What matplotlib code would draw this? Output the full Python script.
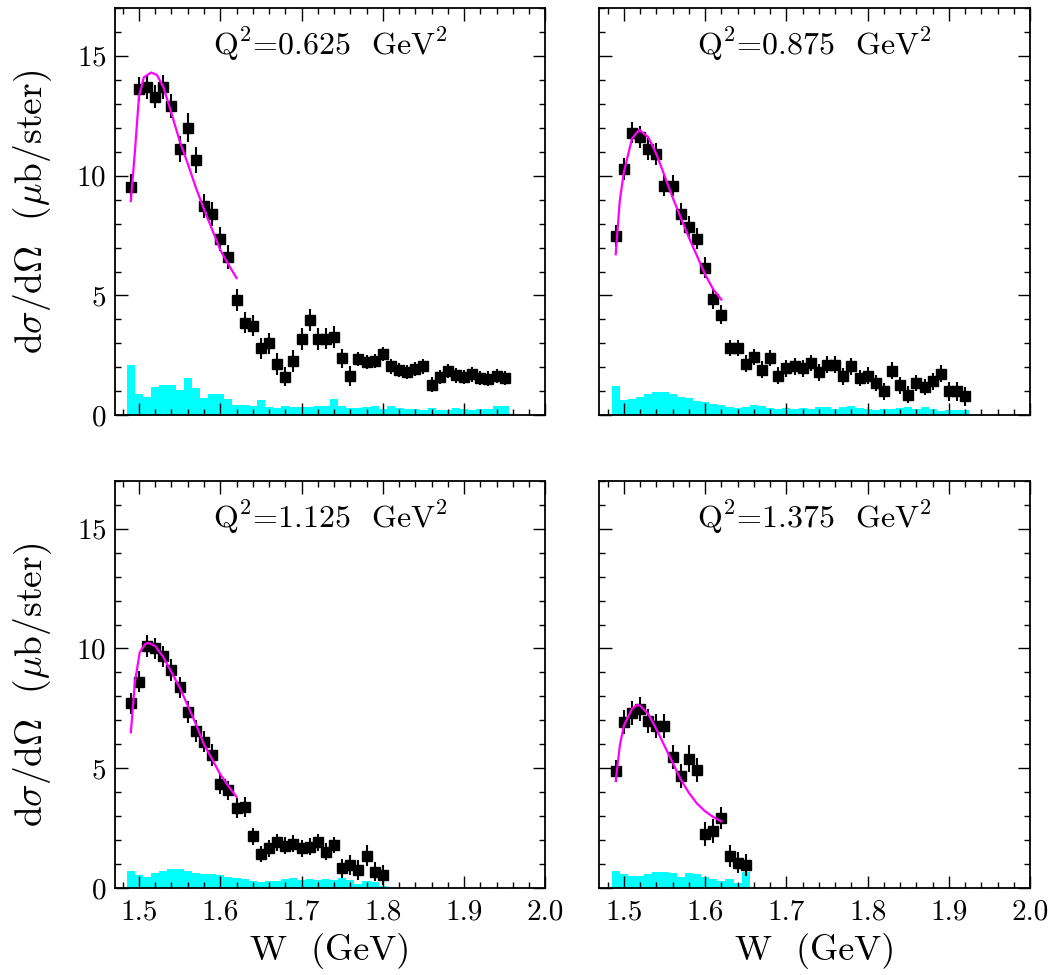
import numpy as np
import matplotlib
matplotlib.use("Agg")
import matplotlib.pyplot as plt
from matplotlib.ticker import MultipleLocator

plt.rcParams['font.family'] = ['cmr10', 'DejaVu Serif']
plt.rcParams['mathtext.fontset'] = 'cm'
plt.rcParams['axes.formatter.use_mathtext'] = True

# Q^2 = 0.625
w_a = [1.49, 1.50, 1.51, 1.52, 1.53, 1.54, 1.55, 1.56, 1.57, 1.58, 1.59,
       1.60, 1.61, 1.62, 1.63, 1.64, 1.65, 1.66, 1.67, 1.68, 1.69,
       1.70, 1.71, 1.72, 1.73, 1.74, 1.75, 1.76, 1.77, 1.78, 1.79,
       1.80, 1.81, 1.82, 1.83, 1.84, 1.85, 1.86, 1.87, 1.88, 1.89,
       1.90, 1.91, 1.92, 1.93, 1.94, 1.95]
y_a = [9.53, 13.6, 13.7, 13.3, 13.7, 12.9, 11.1, 12.0, 10.65, 8.73, 8.38,
       7.37, 6.59, 4.82, 3.87, 3.74, 2.79, 3.0, 2.14, 1.61, 2.26,
       3.18, 3.98, 3.18, 3.2, 3.28, 2.38, 1.64, 2.36, 2.22, 2.26,
       2.57, 2.04, 1.90, 1.81, 1.94, 2.04, 1.28, 1.60, 1.85, 1.67,
       1.60, 1.71, 1.57, 1.53, 1.64, 1.56]
e_a = [0.55, 0.5, 0.5, 0.5, 0.5, 0.5, 0.55, 0.6, 0.55, 0.5, 0.5,
       0.5, 0.5, 0.45, 0.45, 0.45, 0.45, 0.45, 0.45, 0.4, 0.45,
       0.45, 0.45, 0.45, 0.45, 0.45, 0.4, 0.4, 0.3, 0.3, 0.3,
       0.3, 0.3, 0.3, 0.3, 0.3, 0.3, 0.3, 0.3, 0.3, 0.3,
       0.3, 0.3, 0.3, 0.3, 0.3, 0.3]
s_a = [2.1, 0.87, 0.77, 1.19, 1.26, 1.28, 1.05, 1.56, 1.12, 0.73, 0.87,
       0.87, 0.67, 0.45, 0.42, 0.38, 0.63, 0.35, 0.31, 0.39, 0.35,
       0.35, 0.35, 0.38, 0.39, 0.67, 0.38, 0.32, 0.32, 0.35, 0.37,
       0.28, 0.37, 0.32, 0.28, 0.28, 0.24, 0.32, 0.24, 0.24, 0.31,
       0.28, 0.24, 0.28, 0.28, 0.37, 0.37]
fw_a = [1.49, 1.495, 1.50, 1.506, 1.515, 1.522, 1.53, 1.54, 1.55, 1.56,
        1.57, 1.58, 1.59, 1.60, 1.61, 1.62]
fy_a = [8.94, 11.0, 13.3, 14.1, 14.3, 14.2, 13.7, 12.6, 11.45, 10.5,
        9.5, 8.6, 7.75, 6.9, 6.3, 5.73]

# Q^2 = 0.875
w_b = [1.49, 1.50, 1.51, 1.52, 1.53, 1.54, 1.55, 1.56, 1.57, 1.58, 1.59,
       1.60, 1.61, 1.62, 1.63, 1.64, 1.65, 1.66, 1.67, 1.68, 1.69,
       1.70, 1.71, 1.72, 1.73, 1.74, 1.75, 1.76, 1.77, 1.78, 1.79,
       1.80, 1.81, 1.82, 1.83, 1.84, 1.85, 1.86, 1.87, 1.88, 1.89,
       1.90, 1.91, 1.92]
y_b = [7.49, 10.28, 11.79, 11.61, 11.12, 10.91, 9.58, 9.58, 8.39, 7.86, 7.37,
       6.16, 4.87, 4.2, 2.81, 2.81, 2.15, 2.43, 1.90, 2.39, 1.66,
       1.97, 2.04, 1.97, 2.18, 1.79, 2.11, 2.11, 1.63, 2.04, 1.56,
       1.65, 1.35, 1.0, 1.86, 1.25, 0.86, 1.35, 1.18, 1.42, 1.74,
       1.0, 1.0, 0.79]
e_b = [0.45, 0.45, 0.45, 0.45, 0.45, 0.45, 0.45, 0.45, 0.45, 0.45, 0.45,
       0.45, 0.45, 0.4, 0.35, 0.35, 0.35, 0.35, 0.35, 0.35, 0.35,
       0.35, 0.35, 0.35, 0.35, 0.35, 0.35, 0.35, 0.35, 0.35, 0.35,
       0.35, 0.35, 0.35, 0.35, 0.35, 0.35, 0.35, 0.35, 0.35, 0.35,
       0.4, 0.4, 0.4]
s_b = [1.24, 0.64, 0.67, 0.78, 0.88, 0.96, 0.96, 0.88, 0.78, 0.71, 0.61,
       0.57, 0.47, 0.43, 0.36, 0.32, 0.36, 0.43, 0.40, 0.32, 0.27,
       0.32, 0.27, 0.32, 0.28, 0.33, 0.33, 0.28, 0.33, 0.375, 0.31,
       0.28, 0.22, 0.28, 0.28, 0.31, 0.33, 0.28, 0.33, 0.28, 0.19,
       0.22, 0.24, 0.24]
fw_b = [1.49, 1.495, 1.50, 1.51, 1.519, 1.53, 1.54, 1.55, 1.56, 1.57,
        1.58, 1.59, 1.60, 1.61, 1.62]
fy_b = [6.72, 8.95, 10.14, 11.54, 11.91, 11.6, 10.9, 10.0, 9.09, 8.25,
        7.42, 6.65, 5.88, 5.25, 4.83]

# Q^2 = 1.125
w_c = [1.49, 1.50, 1.51, 1.52, 1.53, 1.54, 1.55, 1.56, 1.57, 1.58, 1.59,
       1.60, 1.61, 1.62, 1.63, 1.64, 1.65, 1.66, 1.67, 1.68, 1.69,
       1.70, 1.71, 1.72, 1.73, 1.74, 1.75, 1.76, 1.77, 1.78, 1.79,
       1.80]
y_c = [7.71, 8.62, 10.1, 10.0, 9.67, 9.11, 8.38, 7.34, 6.57, 6.12, 5.55,
       4.36, 4.08, 3.35, 3.39, 2.16, 1.43, 1.67, 1.92, 1.77, 1.85,
       1.67, 1.74, 1.92, 1.53, 1.80, 0.83, 0.97, 0.76, 1.36, 0.69,
       0.55]
e_c = [0.45, 0.45, 0.45, 0.45, 0.45, 0.45, 0.45, 0.45, 0.45, 0.45, 0.45,
       0.45, 0.4, 0.4, 0.4, 0.35, 0.35, 0.35, 0.35, 0.35, 0.35,
       0.35, 0.35, 0.35, 0.35, 0.35, 0.4, 0.4, 0.4, 0.45, 0.4,
       0.4]
s_c = [0.73, 0.55, 0.48, 0.65, 0.73, 0.79, 0.79, 0.73, 0.65, 0.59, 0.59,
       0.55, 0.48, 0.41, 0.37, 0.30, 0.27, 0.30, 0.31, 0.37, 0.41,
       0.34, 0.37, 0.34, 0.37, 0.34, 0.41, 0.34, 0.17, 0.29, 0.27,
       0.08]
fw_c = [1.49, 1.495, 1.501, 1.508, 1.512, 1.52, 1.53, 1.54, 1.55, 1.56,
        1.57, 1.58, 1.59, 1.60, 1.61, 1.62]
fy_c = [6.5, 8.6, 9.85, 10.2, 10.23, 10.1, 9.64, 9.01, 8.38, 7.62,
        6.85, 6.0, 5.38, 4.75, 4.26, 3.81]

# Q^2 = 1.375
w_d = [1.49, 1.50, 1.51, 1.52, 1.53, 1.54, 1.55, 1.56, 1.57, 1.58, 1.59,
       1.60, 1.61, 1.62, 1.63, 1.64, 1.65]
y_d = [4.89, 6.92, 7.31, 7.48, 6.99, 6.78, 6.78, 5.49, 4.68, 5.41, 4.93,
       2.27, 2.37, 2.93, 1.35, 1.07, 0.97]
e_d = [0.45, 0.5, 0.5, 0.5, 0.5, 0.5, 0.5, 0.5, 0.5, 0.55, 0.5,
       0.5, 0.5, 0.45, 0.45, 0.45, 0.45]
s_d = [0.73, 0.59, 0.51, 0.51, 0.59, 0.69, 0.69, 0.65, 0.48, 0.65, 0.59,
       0.48, 0.38, 0.31, 0.37, 0.23, 0.69]
fw_d = [1.49, 1.495, 1.50, 1.51, 1.516, 1.52, 1.53, 1.54, 1.55, 1.56,
        1.57, 1.58, 1.59, 1.60, 1.61, 1.62]
fy_d = [4.47, 5.94, 6.78, 7.48, 7.64, 7.62, 7.27, 6.64, 5.94, 5.24,
        4.54, 3.98, 3.53, 3.21, 2.97, 2.79]

q2_labels = ['0.625', '0.875', '1.125', '1.375']

panels = [(w_a, y_a, e_a, s_a, fw_a, fy_a),
          (w_b, y_b, e_b, s_b, fw_b, fy_b),
          (w_c, y_c, e_c, s_c, fw_c, fy_c),
          (w_d, y_d, e_d, s_d, fw_d, fy_d)]

fig = plt.figure(figsize=(10.61, 9.75), dpi=100)
boxes = [(0.108, 0.574, 0.406, 0.418),
         (0.565, 0.574, 0.406, 0.418),
         (0.108, 0.089, 0.406, 0.418),
         (0.565, 0.089, 0.406, 0.418)]

for i, (w, y, e, s, fw, fy) in enumerate(panels):
    ax = fig.add_axes(boxes[i])
    ax.bar(w, s, width=0.01, color='#00ffff', linewidth=0, zorder=1)
    ax.errorbar(w, y, yerr=e, fmt='s', color='black', ms=6.5,
                elinewidth=1.5, capsize=0, zorder=3)
    ax.plot(fw, fy, color='#ff00ff', lw=1.6, zorder=4)

    ax.set_xlim(1.47, 2.0)
    ax.set_ylim(0, 17)
    ax.xaxis.set_major_locator(MultipleLocator(0.1))
    ax.xaxis.set_minor_locator(MultipleLocator(0.02))
    ax.yaxis.set_major_locator(MultipleLocator(5))
    ax.yaxis.set_minor_locator(MultipleLocator(1))
    ax.xaxis.set_major_formatter(plt.FuncFormatter(lambda v, p: f'{v:.1f}'))
    ax.tick_params(which='both', direction='in', top=True, right=True,
                   labelsize=21, width=1.0)
    ax.tick_params(which='major', length=9)
    ax.tick_params(which='minor', length=4.5)
    ax.tick_params(axis='x', pad=8)
    ax.tick_params(axis='y', pad=6)
    for sp in ax.spines.values():
        sp.set_linewidth(1.3)

    if i < 2:
        ax.tick_params(labelbottom=False)
    else:
        ax.set_xlabel('W  (GeV)', fontsize=26)
        ax.xaxis.set_label_coords(0.5, -0.11)
    if i % 2 == 1:
        ax.tick_params(labelleft=False)
    else:
        ax.set_ylabel(r'd$\sigma$/d$\Omega$  ($\mu$b/ster)', fontsize=27)
        ax.yaxis.set_label_coords(-0.14, 0.5)

    ax.text(0.5, 0.91, r'Q$^2$=' + q2_labels[i] + r'  GeV$^2$',
            transform=ax.transAxes, ha='center', va='center', fontsize=23)

fig.savefig('out.png', dpi=100)
